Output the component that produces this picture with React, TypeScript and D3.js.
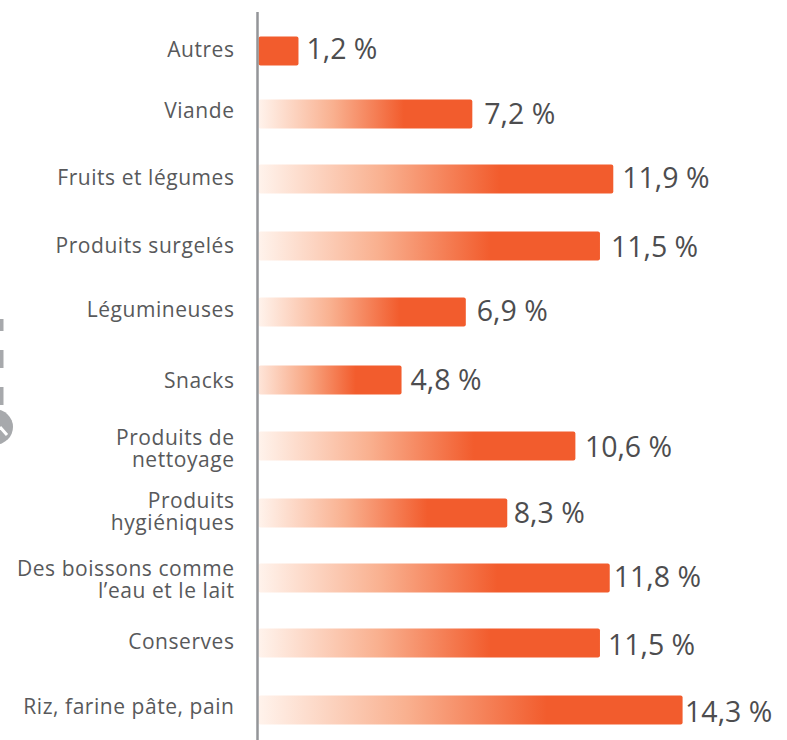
import React from "react";
import * as d3 from "d3";

const categories = ["Autres","Viande","Fruits et légumes","Produits surgelés","Légumineuses","Snacks","Produits de|nettoyage","Produits|hygiéniques","Des boissons comme|l’eau et le lait","Conserves","Riz, farine pâte, pain"];
const valueLabels = ["1,2 %","7,2 %","11,9 %","11,5 %","6,9 %","4,8 %","10,6 %","8,3 %","11,8 %","11,5 %","14,3 %"];
// bar extents (slightly differ from the printed labels)
const barValues = [1.35,7.22,11.98,11.53,7.0,4.83,10.7,8.4,11.86,11.53,14.32];
const rowCentres = [51,114,179,246,312,380,446,513,578,643,710];
const labelCentres = [50,111,178,246,310,381,449,512,580,642,707];
const valueLabelCentres = [49,114,178,247,311,380,447,513,577,645,712];
const valueLabelOffsets = [8,12,9,11,11,9,9.5,6.5,4,8,2.5];

const x = d3.scaleLinear().domain([0, 14.3]).range([258.5, 682]);
const y = d3.scaleOrdinal<string, number>().domain(categories).range(rowCentres);
const BAR = 29;
const FONT = "'Open Sans', 'Noto Sans', sans-serif";

export default function App() {
  return (
    <svg width={787} height={740} style={{ position: "fixed", left: 0, top: 0, display: "block", background: "#fff" }}>
      <defs>
        <linearGradient id="fade" x1="0" x2="1" y1="0" y2="0">
          <stop offset="0" stopColor="#fff3ec" />
          <stop offset="0.35" stopColor="#f9b08f" />
          <stop offset="0.68" stopColor="#f25c2d" />
          <stop offset="1" stopColor="#f25c2d" />
        </linearGradient>
        <linearGradient id="fadeShort" x1="0" x2="1" y1="0" y2="0">
          <stop offset="0" stopColor="#fee5d9" />
          <stop offset="0.35" stopColor="#f8a682" />
          <stop offset="0.68" stopColor="#f25c2d" />
          <stop offset="1" stopColor="#f25c2d" />
        </linearGradient>
      </defs>
      {/* decoration cropped at the left edge */}
      <g fill="#a7a9ac">
        <rect x={0} y={319} width={3.5} height={12} />
        <rect x={0} y={350} width={3.5} height={18} />
        <rect x={0} y={387} width={3.5} height={18} />
        <circle cx={-4.5} cy={427} r={17.5} />
      </g>
      <path d="M0,427 L7,435" stroke="#fff" strokeWidth={3} />
      {categories.map((c, i) => {
        const yc = y(c);
        const lines = c.split("|");
        return (
          <g key={c}>
            <rect
              x={x(0)}
              y={yc - BAR / 2}
              width={x(barValues[i]) - x(0)}
              height={BAR}
              rx={2}
              fill={i === 0 ? "#f25c2d" : i === 5 ? "url(#fadeShort)" : "url(#fade)"}
            />
            <text x={234.5} textAnchor="end" fontFamily={FONT} fontSize={21} letterSpacing={0.55} fill="#58595b">
              {lines.map((l, k) => (
                <tspan key={k} x={234.5} y={labelCentres[i] + 7 + (k - (lines.length - 1) / 2) * 22}>{l}</tspan>
              ))}
            </text>
            <text x={x(barValues[i]) + valueLabelOffsets[i]} y={valueLabelCentres[i] + 10} fontFamily={FONT} fontSize={28.5} fill="#4d4d4f">
              {valueLabels[i]}
            </text>
          </g>
        );
      })}
      <line x1={257.5} x2={257.5} y1={12} y2={740} stroke="#939598" strokeWidth={2.5} />
    </svg>
  );
}
